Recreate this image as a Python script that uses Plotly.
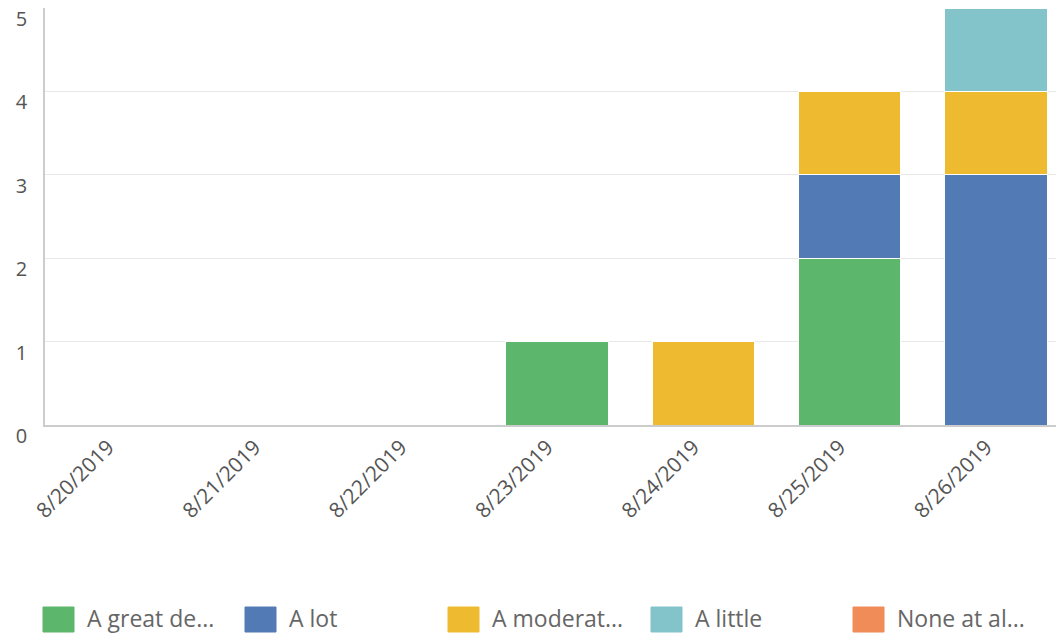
import plotly.graph_objects as go

dates = ["8/20/2019", "8/21/2019", "8/22/2019", "8/23/2019", "8/24/2019", "8/25/2019", "8/26/2019"]
series_names = ["A great deal", "A lot", "A moderate amount", "A little", "None at all"]
legend_labels = ["A great de...", "A lot", "A moderat...", "A little", "None at al..."]
great_deal = [0, 0, 0, 1, 0, 2, 0]
a_lot = [0, 0, 0, 0, 0, 1, 3]
moderate = [0, 0, 0, 0, 1, 1, 1]
a_little = [0, 0, 0, 0, 0, 0, 1]
none_at_all = [0, 0, 0, 0, 0, 0, 0]
y_ticks = [0, 1, 2, 3, 4, 5]

values = [great_deal, a_lot, moderate, a_little, none_at_all]
colors = ["#5cb66c", "#527ab4", "#eebb30", "#83c4ca", "#f08c58"]

W, H = 1056, 635
ML, MR, MT, MB = 45, 0, 8, 210
PW, PH = W - ML - MR, H - MT - MB

def px_x(x):
    return (x - ML) / PW

def px_y(y):
    return (H - MB - y) / PH

fig = go.Figure()
for name, vals, col in zip(series_names, values, colors):
    fig.add_trace(go.Bar(
        x=dates, y=vals, name=name,
        marker=dict(color=col, line=dict(color="white", width=1)),
        showlegend=False,
    ))

# custom legend
swatch_x = [43, 245, 448, 651, 853]
for sx, lab, col in zip(swatch_x, legend_labels, colors):
    fig.add_shape(type="rect", xref="paper", yref="paper",
                  x0=px_x(sx), x1=px_x(sx + 31), y0=px_y(607), y1=px_y(632),
                  fillcolor=col, line=dict(color=col, width=1), layer="above")
    fig.add_annotation(xref="paper", yref="paper", x=px_x(sx + 42), y=px_y(618),
                       text=lab, showarrow=False, xanchor="left", yanchor="middle",
                       font=dict(family="Open Sans, sans-serif",
                                 size=23, color="#666666"))

fig.update_layout(
    width=W, height=H,
    margin=dict(l=ML, r=MR, t=MT, b=MB, autoexpand=False),
    barmode="stack",
    bargap=0.3,
    plot_bgcolor="white",
    paper_bgcolor="white",
    font=dict(family="Open Sans, sans-serif", size=20, color="#555555"),
)
fig.update_xaxes(
    type="category",
    range=[-0.5, 6.41],
    tickangle=-45,
    showline=True, linecolor="#cccccc", linewidth=1.5,
    showgrid=False,
    ticks="",
    automargin=False,
    ticklabelshift=-10,
    ticklabelstandoff=0,
    tickfont=dict(size=21, color="#555555"),
)
fig.update_yaxes(
    range=[0, 5],
    tickvals=y_ticks,
    showline=True, linecolor="#cccccc", linewidth=1.5,
    showgrid=True, gridcolor="#e8e8e8", gridwidth=1,
    zeroline=False,
    ticks="",
    automargin=False,
    ticklabelshift=11,
    ticklabelstandoff=12,
    ticklabeloverflow="allow",
    tickfont=dict(size=20, color="#555555"),
)

fig.write_html("out.html")
